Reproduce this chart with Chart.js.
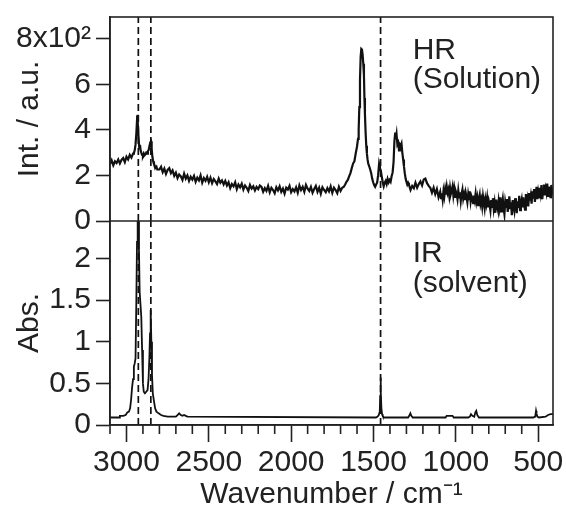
<!DOCTYPE html>
<html>
<head>
<meta charset="utf-8">
<script src="https://cdn.jsdelivr.net/npm/chart.js@4.4.1/dist/chart.umd.min.js"></script>
<style>
    body { margin: 0; background: #fff; }
    .chart-box { width: 566px; height: 513px; }
</style>
</head>
<body>
<div class="chart-box"><canvas id="spectra"></canvas></div>

<script>
    // HR spectrum of the solution
    const hrWavenumber = [
        3100,3090,3080,3070,3060,3050,3040,3030,3020,3010,3000,2990,2980,2970,2960,
        2955,2950,2945,2940,2936,2933,2930,2926,2922,2918,2914,2910,2905,2900,2895,2890,
        2885,2880,2875,2870,2865,2860,2855,2851,2847,2843,2838,2833,2828,2823,2818,2813,
        2800,2790,2780,2770,2760,2750,2740,2730,2720,2710,
        2700,2690,2680,2670,2660,2650,2640,2630,2620,2610,
        2600,2590,2580,2570,2560,2550,2540,2530,2520,2510,
        2500,2490,2480,2470,2460,2450,2440,2430,2420,2410,
        2400,2390,2380,2370,2360,2350,2340,2330,2320,2310,
        2300,2290,2280,2270,2260,2250,2240,2230,2220,2210,
        2200,2190,
        2180,2170,2160,2150,2140,2130,2120,2110,2100,2090,
        2080,2070,2060,2050,2040,2030,2020,2010,2000,1990,
        1980,1970,1960,1950,1940,1930,1920,1910,1900,1890,
        1880,1870,1860,1850,1840,1830,1820,1810,1800,1790,
        1780,1770,1760,1750,1740,1730,1720,1710,1700,1690,
        1680,1672,1664,1656,1648,1640,1632,1624,1616,1608,
        1600,1594,1590,1586,1582,1578,1574,1570,1566,1562,
        1558,1555,1552,1548,1544,1540,1536,1532,1526,1520,
        1514,1508,1502,1496,1490,1484,1478,1472,1466,1461,
        1456,1450,1444,1438,1432,1426,1420,1414,1408,1402,
        1396,1390,1384,1378,1373,1368,1364,1360,1355,1350,
        1345,1340,1335,1330,1325,1320,1315,1310,1305,1300,
        1295,1290,
        1285,1275,1265,1255,1245,1235,1225,1215,1205,1195,
        1185,1175,1165,1155,1145,1135,1125,1115,1105,
        1095,1090,1085,1080,1075,1070,1065,1060,1055,1050,
        1045,1040,1035,1030,1025,1020,1015,1010,1005,1000,
        995,990,985,980,975,970,965,960,955,950,
        945,940,935,930,925,920,915,910,905,900,
        895,890,885,880,875,870,865,860,855,850,
        845,840,835,830,825,820,815,810,805,800,
        795,790,785,780,775,770,765,760,755,750,
        745,740,735,730,725,720,715,710,705,700,
        695,690,685,680,675,670,665,660,655,650,
        645,640,635,630,625,620,615,610,605,600,
        595,590,585,580,575,570,565,560,555,550,
        545,540,535,530,525,520,515,510,505,500,
        495,490,485,480,475,470,465,460,455,450,
        445,440,435,430,425,420,415,410
    ];
    const hrIntensity = [
        250,266,244,262,254,270,252,268,276,258,282,270,290,278,296,
        298,310,335,385,440,466,430,360,318,334,310,300,290,286,296,288,
        292,300,296,306,312,330,346,350,318,284,262,250,242,234,238,226,
        226,238,214,230,206,224,232,210,222,198,
        212,188,204,196,180,208,186,200,176,194,
        182,198,172,190,178,200,168,188,176,194,
        170,190,166,184,174,162,186,168,178,160,
        176,156,170,144,162,152,170,140,160,148,
        164,138,156,146,132,158,142,152,134,150,
        140,156,
        150,128,144,132,154,126,146,136,122,148,
        134,152,128,142,120,146,138,154,126,140,
        130,148,124,156,136,150,128,158,142,132,
        150,124,140,154,128,146,120,148,136,126,
        144,130,152,124,146,136,122,150,132,146,
        150,160,172,180,196,210,232,252,262,296,
        327,360,400,500,620,720,755,752,730,690,
        640,540,470,390,330,296,270,252,240,226,
        210,186,170,158,150,160,168,200,250,232,
        222,196,170,152,168,176,162,184,170,180,
        172,196,212,260,350,388,360,380,336,344,
        310,336,330,340,300,270,240,210,186,172,
        160,168,
        160,136,154,144,168,146,162,174,156,182,
        186,166,154,146,124,146,118,140,104,
        128,100,122,94,132,108,140,116,150,124,
        138,110,146,120,134,152,112,140,106,130,
        118,96,134,104,126,88,120,138,98,116,
        92,124,104,82,118,96,130,86,110,100,
        78,112,92,120,84,104,70,98,116,76,
        94,64,108,82,56,96,74,102,60,88,
        70,46,92,62,100,54,80,36,94,66,
        50,88,60,104,42,76,98,56,30,84,
        62,96,40,72,108,52,82,26,92,64,
        44,100,70,34,86,58,110,48,78,96,
        60,104,72,50,118,82,100,64,122,90,
        112,76,130,98,140,84,118,150,96,128,
        104,146,120,158,96,134,160,112,142,124,
        164,110,150,132,100,158,126,144
    ];

    // IR spectrum of the solvent
    const irWavenumber = [
        3100,3060,3045,3040,3020,3005,2995,2985,2978,2972,
        2966,2960,2955,2950,2945,2940,2936,2932,2928,2924,
        2920,2915,2910,2905,2900,2895,2888,2880,2872,2866,
        2861,2857,2853,2849,2845,2840,2834,2826,2818,2805,
        2790,2775,2750,2700,2690,2680,2670,2660,2650,2640,
        2630,1485,1475,1468,1462,1459,1457,1455,1452,1448,
        1444,1438,1290,1283,1276,1270,1262,1062,1056,1040,
        1020,1013,925,915,908,900,888,882,876,870,
        860,530,518,513,510,505,495,455,440,425,
        410
    ];
    const irAbsorbance = [
        0.09,0.09,0.09,0.11,0.11,0.12,0.15,0.16,0.2,0.3,
        0.45,0.55,0.7,0.74,0.8,1.5,2.2,2.45,2.45,2.1,
        1.6,1.45,1.3,0.9,0.5,0.4,0.38,0.4,0.42,0.55,
        0.8,1.1,1.38,1.0,0.6,0.38,0.3,0.2,0.16,0.14,
        0.12,0.11,0.1,0.1,0.12,0.14,0.12,0.11,0.12,0.11,
        0.1,0.09,0.1,0.12,0.16,0.35,0.57,0.4,0.2,0.13,
        0.11,0.09,0.09,0.11,0.14,0.11,0.09,0.09,0.11,0.11,
        0.11,0.09,0.09,0.1,0.13,0.11,0.1,0.15,0.17,0.12,
        0.09,0.09,0.1,0.17,0.14,0.1,0.09,0.1,0.12,0.13,
        0.13
    ];

    // dashed guide lines
    const bandPositions = [2928, 2852, 1457];

    const xRange = [410, 3100];
    const xMajorTicks = [3000, 2500, 2000, 1500, 1000, 500];
    const xMinorStep = 100;
    const hrRange = [0, 895];
    const hrTickValues = [0, 200, 400, 600, 800];
    const hrTickLabels = ['0', '2', '4', '6', '8x10²'];
    const irRange = [0, 2.45];
    const irTickValues = [0, 0.5, 1, 1.5, 2];
    const irTickLabels = ['0', '0.5', '1', '1.5', '2'];

    const panelLabels = [
        { text: 'HR', x: 1262, y: 712, axis: 'yHR' },
        { text: '(Solution)', x: 1262, y: 583, axis: 'yHR' },
        { text: 'IR', x: 1262, y: 1.96, axis: 'yIR' },
        { text: '(solvent)', x: 1262, y: 1.6, axis: 'yIR' }
    ];

    const ink = '#222';
    Chart.defaults.font.family = '"Liberation Sans", Arial, Helvetica, sans-serif';
    Chart.defaults.color = ink;

    const toPoints = (xs, ys) => xs.map((x, i) => ({ x: x, y: ys[i] }));
    const isMajor = v => xMajorTicks.indexOf(v) !== -1;

    const lineStyle = {
        borderColor: '#111',
        borderWidth: 2.2,
        pointRadius: 0,
        tension: 0,
        fill: false
    };

    const guideSets = [];
    bandPositions.forEach(pos => {
        guideSets.push(Object.assign({}, lineStyle, {
            data: [{ x: pos, y: hrRange[0] }, { x: pos, y: hrRange[1] }],
            yAxisID: 'yHR', borderDash: [7, 4], borderWidth: 1.7
        }));
        guideSets.push(Object.assign({}, lineStyle, {
            data: [{ x: pos, y: irRange[0] }, { x: pos, y: irRange[1] }],
            yAxisID: 'yIR', borderDash: [7, 4], borderWidth: 1.7
        }));
    });

    const panelFrame = {
        id: 'panelFrame',
        afterDraw(chart) {
            const { ctx, chartArea: a, scales } = chart;
            const x = scales.x;
            ctx.save();
            ctx.strokeStyle = ink;
            ctx.lineWidth = 1.6;
            ctx.strokeRect(a.left, a.top, a.right - a.left, a.bottom - a.top);
            ctx.beginPath();
            ctx.moveTo(a.left, scales.yHR.bottom);
            ctx.lineTo(a.right, scales.yHR.bottom);
            ctx.stroke();

            // short minor ticks between the labelled ones
            x.ticks.forEach((t, i) => {
                if (isMajor(t.value)) return;
                const px = x.getPixelForTick(i);
                ctx.beginPath();
                ctx.moveTo(px, a.bottom);
                ctx.lineTo(px, a.bottom + 9);
                ctx.stroke();
            });

            ctx.fillStyle = ink;
            ctx.font = '30px "Liberation Sans", Arial, sans-serif';
            ctx.textAlign = 'left';
            ctx.textBaseline = 'alphabetic';
            panelLabels.forEach(l => {
                ctx.fillText(l.text, x.getPixelForValue(l.x), scales[l.axis].getPixelForValue(l.y));
            });
            ctx.restore();
        }
    };

    const yAxis = (range, values, labels, title) => ({
        type: 'linear',
        position: 'left',
        stack: 'panels',
        stackWeight: 1,
        min: range[0],
        max: range[1],
        afterFit: s => { s.width = 98; s.paddingTop = 0; s.paddingBottom = 0; },
        afterBuildTicks: s => { s.ticks = values.map(v => ({ value: v })); },
        border: { color: ink, width: 1.6 },
        grid: { drawOnChartArea: false, tickLength: 14, tickWidth: 1.6, tickColor: ink },
        ticks: {
            autoSkip: false,
            padding: 5,
            font: { size: 30 },
            callback: v => labels[values.indexOf(v)]
        },
        title: { display: true, text: title, font: { size: 30 }, padding: 0 }
    });

    const ctx = document.getElementById('spectra').getContext('2d');
    const spectraChart = new Chart(ctx, {
        type: 'line',
        data: {
            datasets: [
                Object.assign({}, lineStyle, { data: toPoints(hrWavenumber, hrIntensity), yAxisID: 'yHR' }),
                Object.assign({}, lineStyle, { data: toPoints(irWavenumber, irAbsorbance), yAxisID: 'yIR', borderWidth: 1.8 })
            ].concat(guideSets)
        },
        options: {
            responsive: true,
            maintainAspectRatio: false,
            animation: false,
            events: [],
            layout: { padding: { left: 12, right: 13, top: 17, bottom: 0 } },
            plugins: {
                legend: { display: false },
                tooltip: { enabled: false }
            },
            scales: {
                x: {
                    type: 'linear',
                    position: 'bottom',
                    reverse: true,
                    min: xRange[0],
                    max: xRange[1],
                    afterFit: s => { s.height = 88; s.paddingLeft = 0; s.paddingRight = 0; },
                    afterBuildTicks: s => {
                        const ticks = [];
                        for (let v = Math.ceil(xRange[0] / xMinorStep) * xMinorStep; v <= xRange[1]; v += xMinorStep) {
                            ticks.push({ value: v });
                        }
                        s.ticks = ticks;
                    },
                    border: { color: ink, width: 1.6 },
                    grid: {
                        drawOnChartArea: false,
                        tickLength: 17,
                        tickWidth: 1.6,
                        tickColor: c => (c.tick && isMajor(c.tick.value)) ? ink : 'rgba(0,0,0,0)'
                    },
                    ticks: {
                        autoSkip: false,
                        maxRotation: 0,
                        minRotation: 0,
                        padding: 3,
                        font: { size: 30 },
                        callback: v => isMajor(v) ? String(v) : ''
                    },
                    title: { display: true, text: 'Wavenumber / cm⁻¹', font: { size: 30 }, padding: 0 }
                },
                yIR: yAxis(irRange, irTickValues, irTickLabels, 'Abs.'),
                yHR: yAxis(hrRange, hrTickValues, hrTickLabels, 'Int. / a.u.')
            }
        },
        plugins: [panelFrame]
    });
</script>
</body>
</html>
